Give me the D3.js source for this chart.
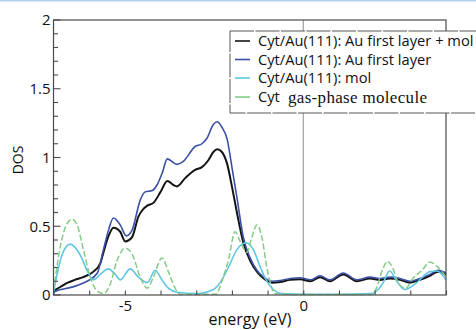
<!DOCTYPE html>
<html><head><meta charset="utf-8">
<script src="https://cdn.jsdelivr.net/npm/d3@7"></script>
<style>
html,body{margin:0;padding:0;background:#fff;}
svg{display:block;}
</style>
</head><body>
<svg id="chart" width="476" height="330"></svg>
<script>
// ---- data ----
const seriesNames = ["Cyt/Au(111): Au first layer + mol", "Cyt/Au(111): Au first layer", "Cyt/Au(111): mol", "Cyt gas-phase molecule"];
const xTickLabels = [-5, 0];
const yTickLabels = [0, 0.5, 1, 1.5, 2];

const blackE = [-7, -6.8, -6.6, -6.4, -6.17, -5.88, -5.69, -5.6, -5.47, -5.32, -5.13, -4.99, -4.8, -4.62, -4.5, -4.37, -4.2, -4.0, -3.81, -3.64, -3.54, -3.31, -3.03, -2.84, -2.66, -2.52, -2.41, -2.28, -2.13, -2.0, -1.86, -1.68, -1.49, -1.3, -1.11, -0.87, -0.65, -0.37, -0.09, 0.2, 0.47, 0.75, 1.12, 1.5, 1.87, 2.15, 2.43, 2.71, 2.99, 3.27, 3.55, 3.78, 4.0];
const blackDOS = [0.03, 0.06, 0.09, 0.11, 0.13, 0.17, 0.23, 0.31, 0.42, 0.49, 0.46, 0.39, 0.42, 0.57, 0.62, 0.65, 0.67, 0.75, 0.83, 0.80, 0.79, 0.85, 0.91, 0.93, 0.98, 1.04, 1.06, 1.04, 0.95, 0.79, 0.60, 0.38, 0.25, 0.17, 0.12, 0.09, 0.095, 0.11, 0.115, 0.10, 0.13, 0.10, 0.15, 0.10, 0.12, 0.11, 0.12, 0.11, 0.09, 0.11, 0.14, 0.17, 0.15];

const blueE = [-7, -6.8, -6.6, -6.33, -6.06, -5.77, -5.6, -5.46, -5.32, -5.13, -4.96, -4.8, -4.57, -4.43, -4.23, -4.1, -3.95, -3.81, -3.54, -3.37, -3.03, -2.84, -2.7, -2.52, -2.41, -2.28, -2.13, -2.0, -1.86, -1.68, -1.49, -1.3, -1.11, -0.87, -0.65, -0.37, -0.09, 0.2, 0.47, 0.75, 1.12, 1.5, 1.87, 2.15, 2.43, 2.71, 2.99, 3.27, 3.55, 3.78, 4.0];
const blueDOS = [0.02, 0.04, 0.05, 0.07, 0.10, 0.16, 0.33, 0.47, 0.56, 0.51, 0.43, 0.47, 0.69, 0.75, 0.76, 0.80, 0.89, 0.99, 0.95, 0.97, 1.08, 1.10, 1.14, 1.24, 1.26, 1.22, 1.13, 0.93, 0.71, 0.42, 0.27, 0.18, 0.13, 0.10, 0.105, 0.12, 0.125, 0.11, 0.14, 0.11, 0.16, 0.11, 0.13, 0.12, 0.13, 0.12, 0.10, 0.12, 0.15, 0.18, 0.16];

const cyanE = [-7, -6.9, -6.75, -6.53, -6.25, -6.06, -5.88, -5.69, -5.46, -5.27, -5.13, -4.85, -4.62, -4.37, -4.15, -3.96, -3.78, -3.53, -3.0, -2.52, -2.33, -2.1, -1.86, -1.6, -1.4, -1.2, -1.01, -0.84, -0.6, 0, 1.0, 1.9, 2.1, 2.24, 2.42, 2.62, 2.85, 3.18, 3.55, 3.75, 4.0];
const cyanDOS = [0.02, 0.15, 0.30, 0.37, 0.29, 0.18, 0.11, 0.15, 0.19, 0.15, 0.11, 0.19, 0.13, 0.09, 0.18, 0.11, 0.05, 0.02, 0.01, 0.04, 0.09, 0.20, 0.33, 0.38, 0.33, 0.20, 0.095, 0.04, 0.01, 0.005, 0.005, 0.01, 0.04, 0.09, 0.175, 0.10, 0.04, 0.09, 0.17, 0.175, 0.11];

const greenE = [-7, -6.81, -6.62, -6.48, -6.34, -6.16, -5.97, -5.78, -5.6, -5.41, -5.22, -4.99, -4.8, -4.57, -4.37, -4.2, -3.96, -3.78, -3.59, -3.45, -2.45, -2.27, -2.1, -1.91, -1.77, -1.58, -1.44, -1.3, -1.16, -1.02, -0.93, -0.8, 0, 1.0, 1.95, 2.05, 2.2, 2.36, 2.5, 2.68, 2.87, 3.07, 3.33, 3.55, 3.74, 4.0];
const greenDOS = [0.03, 0.35, 0.52, 0.55, 0.51, 0.33, 0.13, 0.03, 0.01, 0.08, 0.25, 0.34, 0.30, 0.13, 0.05, 0.13, 0.27, 0.17, 0.05, 0.005, 0.005, 0.11, 0.25, 0.46, 0.39, 0.31, 0.42, 0.51, 0.42, 0.20, 0.095, 0.01, 0.003, 0.003, 0.005, 0.05, 0.17, 0.245, 0.20, 0.08, 0.05, 0.12, 0.18, 0.24, 0.21, 0.13];

// ---- layout ----
const svg = d3.select("#chart");
const L = 53.5, R = 446, T = 20, B = 295;
const x = d3.scaleLinear().domain([-7, 4]).range([L, R]);
const y = d3.scaleLinear().domain([0, 2]).range([B, T]);
const axisColor = "#4a4a4a";
const font = "'Open Sans', 'Liberation Sans', sans-serif";
const serif = "'Liberation Serif', 'DejaVu Serif', serif";

// faint top edge
svg.append("rect").attr("x", 0).attr("y", 0).attr("width", 476).attr("height", 1.5).attr("fill", "#b7d0ea");

// zero-energy line
svg.append("line").attr("x1", x(0)).attr("x2", x(0)).attr("y1", T).attr("y2", B)
  .attr("stroke", "#a0a0a0").attr("stroke-width", 1.2);

// curves
const series = [
  {e: blackE, d: blackDOS, color: "#141414", w: 2.0, dash: null},
  {e: blueE, d: blueDOS, color: "#3b50a6", w: 1.6, dash: null},
  {e: cyanE, d: cyanDOS, color: "#5fc6e2", w: 1.6, dash: null},
  {e: greenE, d: greenDOS, color: "#85cb86", w: 1.5, dash: "6,2.5"}
];
const line = d3.line().x(p => x(p[0])).y(p => y(p[1])).curve(d3.curveMonotoneX);
svg.append("clipPath").attr("id", "clip").append("rect")
  .attr("x", L).attr("y", T).attr("width", R - L).attr("height", B - T + 1);
series.forEach(s => {
  const pts = s.e.map((v, i) => [v, s.d[i]]);
  svg.append("path").attr("d", line(pts)).attr("fill", "none")
    .attr("stroke", s.color).attr("stroke-width", s.w)
    .attr("stroke-dasharray", s.dash)
    .attr("stroke-linejoin", "round")
    .attr("clip-path", "url(#clip)");
});

// frame
svg.append("rect").attr("x", L).attr("y", T).attr("width", R - L).attr("height", B - T)
  .attr("fill", "none").attr("stroke", axisColor).attr("stroke-width", 1.2);

// x axis ticks (inward)
const xAxis = d3.axisBottom(x).tickValues(d3.range(-7, 5, 1)).tickSizeInner(-4.5).tickSizeOuter(0)
  .tickFormat(d => xTickLabels.includes(d) ? String(d) : "");
const gx = svg.append("g").attr("transform", `translate(0,${B})`).call(xAxis);
gx.select(".domain").remove();
gx.selectAll(".tick line").attr("stroke", axisColor).attr("stroke-width", 1.1);
gx.selectAll(".tick text").attr("fill", "#111").attr("font-family", font).attr("font-size", 15)
  .attr("y", 5).attr("dy", "0.71em");

// y axis ticks (inward), minor every 0.1, major at labels
const minorY = d3.range(0, 2.0001, 0.1).map(v => +v.toFixed(1));
const gy = svg.append("g");
minorY.forEach(v => {
  const major = yTickLabels.some(t => Math.abs(t - v) < 1e-6);
  gy.append("line").attr("x1", L).attr("x2", L + (major ? 7 : 4.5))
    .attr("y1", y(v)).attr("y2", y(v)).attr("stroke", axisColor).attr("stroke-width", 1.1);
});
const yAxis = d3.axisLeft(y).tickValues(yTickLabels).tickSize(0).tickFormat(d3.format("~g"));
const gyl = svg.append("g").attr("transform", `translate(${L},0)`).call(yAxis);
gyl.select(".domain").remove();
gyl.selectAll(".tick text").attr("fill", "#111").attr("font-family", font).attr("font-size", 15).attr("x", -3);

// axis titles
svg.append("text").attr("x", 250).attr("y", 325).attr("text-anchor", "middle")
  .attr("font-family", font).attr("font-size", 16).attr("fill", "#111").text("energy (eV)");
svg.append("text").attr("transform", "translate(23,160) rotate(-90)").attr("text-anchor", "middle")
  .attr("font-family", font).attr("font-size", 14).attr("fill", "#111").text("DOS");

// legend
const lg = svg.append("g");
lg.append("rect").attr("x", 230).attr("y", 31).attr("width", 260).attr("height", 82)
  .attr("fill", "#fff").attr("stroke", "#555").attr("stroke-width", 1)
  .attr("stroke-dasharray", "24,1.5");
const rowsY = [41, 59.5, 78, 97];
series.forEach((s, i) => {
  lg.append("line").attr("x1", 235).attr("x2", 250).attr("y1", rowsY[i]).attr("y2", rowsY[i])
    .attr("stroke", s.color).attr("stroke-width", 1.6);
  if (i === 3) {
    lg.append("text").attr("x", 258).attr("y", rowsY[i]).attr("dy", "0.35em")
      .attr("font-family", font).attr("font-size", 14.7).attr("fill", "#111").text("Cyt");
    lg.append("text").attr("x", 288).attr("y", rowsY[i]).attr("dy", "0.33em")
      .style("font-family", serif).attr("font-size", 17)
      .attr("textLength", 139).attr("lengthAdjust", "spacing")
      .attr("fill", "#111").text("gas-phase molecule");
  } else {
    lg.append("text").attr("x", 258).attr("y", rowsY[i]).attr("dy", "0.35em")
      .attr("font-family", font).attr("font-size", 14.7).attr("fill", "#111").text(seriesNames[i]);
  }
});
</script>
</body></html>
